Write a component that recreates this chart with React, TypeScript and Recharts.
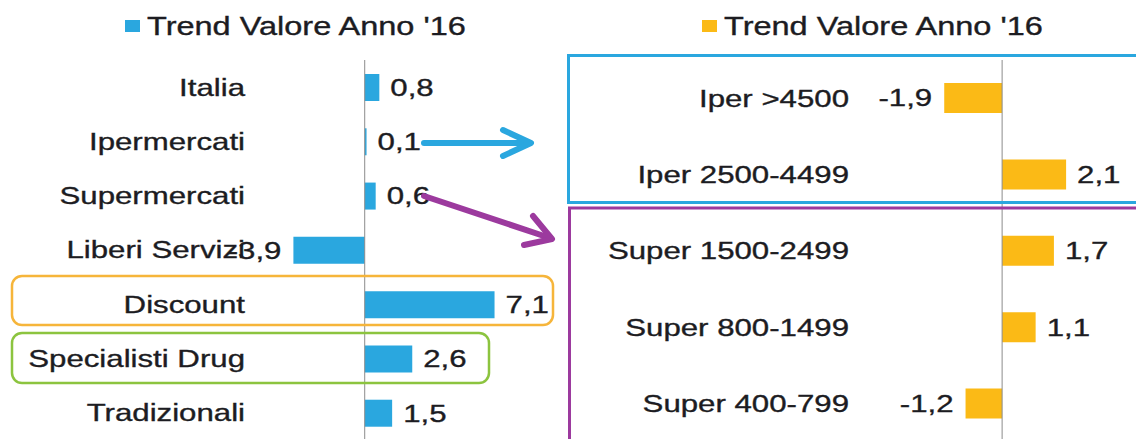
import { Bar, BarChart, LabelList, Legend, ReferenceLine, XAxis, YAxis } from 'recharts';

const leftCategories = ['Italia', 'Ipermercati', 'Supermercati', 'Liberi Servizi', 'Discount', 'Specialisti Drug', 'Tradizionali'];
const leftValues = [0.8, 0.1, 0.6, -3.9, 7.1, 2.6, 1.5];

const rightCategories = ['Iper >4500', 'Iper 2500-4499', 'Super 1500-2499', 'Super 800-1499', 'Super 400-799'];
const rightValues = [-1.9, 2.1, 1.7, 1.1, -1.2];

const seriesName = "Trend Valore Anno '16";

const BLUE = '#2aa7df';
const ORANGE = '#fbba16';
const PURPLE = '#9c3a9e';
const TEXT = '#1c1c22';
const FONT = '"Liberation Sans", Arial, sans-serif';
// the source picture is stretched sideways, so all text is widened a bit
const STRETCH = 1.3;

const leftData = leftCategories.map((name, i) => ({ name, value: leftValues[i] }));
const rightData = rightCategories.map((name, i) => ({ name, value: rightValues[i] }));

const fmt = (v: number) => v.toFixed(1).replace('.', ',');

function CategoryTick({ x, y, payload }: any) {
  return (
    <text
      transform={`translate(${x},${y}) scale(${STRETCH},1)`}
      textAnchor="end"
      dy="0.35em"
      fontSize={24}
      fontFamily={FONT}
      fill={TEXT}
      stroke={TEXT}
      strokeWidth={0.35}
    >
      {payload.value}
    </text>
  );
}

function ValueLabel({ x, y, width, height, value }: any) {
  const v = Number(value);
  const lo = Math.min(x, x + width);
  const hi = Math.max(x, x + width);
  const tx = v < 0 ? lo - 12 : hi + 11;
  return (
    <text
      transform={`translate(${tx},${y + height / 2}) scale(${STRETCH},1)`}
      textAnchor={v < 0 ? 'end' : 'start'}
      dy="0.35em"
      fontSize={24}
      fontFamily={FONT}
      fill={TEXT}
      stroke={TEXT}
      strokeWidth={0.35}
    >
      {fmt(v)}
    </text>
  );
}

function LegendBox({ payload }: any) {
  const item = payload?.[0];
  if (!item) return null;
  return (
    <div style={{ display: 'flex', alignItems: 'center', height: 28 }}>
      <span style={{ width: 15, height: 12, background: item.color, marginRight: 7, flex: 'none' }} />
      <span
        style={{
          display: 'inline-block',
          fontFamily: FONT,
          fontSize: 25,
          lineHeight: '28px',
          color: TEXT,
          whiteSpace: 'nowrap',
          transform: `scaleX(${STRETCH})`,
          transformOrigin: 'left center',
          WebkitTextStroke: `0.35px ${TEXT}`,
        }}
      >
        {item.value}
      </span>
    </div>
  );
}

function Panel({
  data,
  color,
  width,
  height,
  axisWidth,
  tickGap,
  rightMargin,
  domain,
  barSize,
  legendLeft,
}: {
  data: { name: string; value: number }[];
  color: string;
  width: number;
  height: number;
  axisWidth: number;
  tickGap: number;
  rightMargin: number;
  domain: [number, number];
  barSize: number;
  legendLeft: number;
}) {
  return (
    <BarChart
      layout="vertical"
      width={width}
      height={height}
      data={data}
      margin={{ top: 60, right: rightMargin, bottom: 5, left: 0 }}
    >
      <XAxis type="number" domain={domain} hide allowDataOverflow />
      <YAxis
        type="category"
        dataKey="name"
        width={axisWidth}
        axisLine={false}
        tickLine={false}
        tickSize={0}
        tickMargin={tickGap}
        tick={<CategoryTick />}
        interval={0}
      />
      <Legend
        layout="horizontal"
        align="center"
        verticalAlign="middle"
        wrapperStyle={{ top: 12, left: legendLeft, width: 400 }}
        content={<LegendBox />}
      />
      <ReferenceLine x={0} stroke="#8c8c8c" strokeWidth={1} />
      <Bar dataKey="value" name={seriesName} fill={color} barSize={barSize} isAnimationActive={false}>
        <LabelList dataKey="value" content={<ValueLabel />} />
      </Bar>
    </BarChart>
  );
}

export default function App() {
  return (
    <div
      style={{
        position: 'absolute',
        left: 0,
        top: 0,
        width: 1136,
        height: 439,
        overflow: 'hidden',
        background: '#fff',
      }}
    >
      <div style={{ position: 'absolute', left: 0, top: 0 }}>
        <Panel
          data={leftData}
          color={BLUE}
          width={560}
          height={445}
          axisWidth={255}
          tickGap={10}
          rightMargin={49}
          domain={[-6, 8]}
          barSize={27}
          legendLeft={125}
        />
      </div>
      <div style={{ position: 'absolute', left: 560, top: 0 }}>
        <Panel
          data={rightData}
          color={ORANGE}
          width={576}
          height={447}
          axisWidth={305}
          tickGap={16}
          rightMargin={12}
          domain={[-4.5, 4]}
          barSize={30}
          legendLeft={142}
        />
      </div>
      {/* annotation boxes (open to the right edge) and arrows */}
      <svg
        width={1136}
        height={439}
        style={{ position: 'absolute', left: 0, top: 0, pointerEvents: 'none' }}
      >
        <path d="M1140,55.5 H568.5 V202.5 H1140" fill="none" stroke={BLUE} strokeWidth={3} />
        <path d="M1140,208 H569.5 V445" fill="none" stroke={PURPLE} strokeWidth={3} />
        <rect x={12} y={276} width={541} height={49} rx={10} fill="none" stroke="#f6b53a" strokeWidth={2.5} />
        <rect x={12} y={333} width={477} height={50} rx={10} fill="none" stroke="#8cc43f" strokeWidth={2.5} />
        <g stroke={BLUE} strokeWidth={6} strokeLinecap="round" strokeLinejoin="round" fill="none">
          <line x1={424} y1={143} x2={529} y2={143} />
          <polyline points="503,130 531,143 503,156" />
        </g>
        <g stroke={PURPLE} strokeWidth={6} strokeLinecap="round" strokeLinejoin="round" fill="none">
          <line x1={424} y1={196} x2={550} y2={238} />
          <polyline points="533,216 552,239 524,245" />
        </g>
      </svg>
    </div>
  );
}
